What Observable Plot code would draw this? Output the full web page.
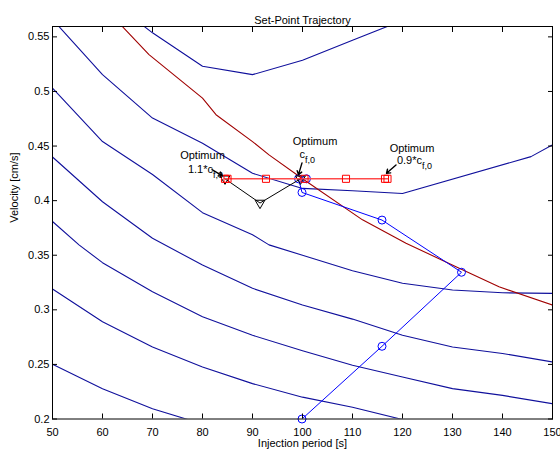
<!DOCTYPE html>
<html><head><meta charset="utf-8">
<script src="https://cdn.jsdelivr.net/npm/d3@7"></script>
<script src="https://cdn.jsdelivr.net/npm/@observablehq/plot@0.6"></script>
<style>body{margin:0;background:#fff}#chart{width:560px;height:452px}</style>
</head><body><div id="chart"></div>
<script>
const titleText = "Set-Point Trajectory";
const xLabel = "Injection period [s]";
const yLabel = "Velocity [cm/s]";
const xTicks = [50, 60, 70, 80, 90, 100, 110, 120, 130, 140, 150];
const yTicks = [0.2, 0.25, 0.3, 0.35, 0.4, 0.45, 0.5, 0.55];

// contour lines [injection period, velocity]
const contourA = [[60,0.589],[70,0.5537],[80,0.5231],[90,0.5154],[100,0.5286],[110,0.547],[120,0.565]];
const contourC = [[50,0.566],[60,0.5154],[70,0.4756],[80,0.4526],[90,0.425],[100,0.4112],[110,0.409],[120,0.4066],[145.7,0.4403],[150,0.4511]];
const contourD = [[50,0.5031],[60,0.4541],[70,0.424],[80,0.389],[90,0.3687],[93.3,0.3595],[100,0.350],[110,0.3358],[120,0.3243],[130,0.3181],[140,0.3156],[150,0.3151]];
const contourE = [[50,0.440],[60,0.399],[70,0.3656],[80,0.341],[90,0.3197],[100,0.3045],[110,0.2915],[120,0.2767],[130,0.266],[140,0.26],[150,0.2522]];
const contourF = [[50,0.3809],[55.3,0.3595],[60,0.3432],[70,0.3165],[80,0.2936],[90,0.2767],[100,0.2625],[110,0.2492],[120,0.2384],[130,0.2278],[140,0.2216],[150,0.214]];
const contourG = [[50,0.319],[60,0.289],[70,0.266],[80,0.2476],[90,0.2324],[100,0.22],[110,0.2108],[120,0.1995]];
const contourH = [[50,0.2501],[60,0.2278],[70,0.2094],[80,0.1954]];

// optimum curve (dark red)
const optimumCurve = [[62,0.569],[69.3,0.5338],[80,0.4939],[82.7,0.4787],[90,0.4541],[93.3,0.4419],[100,0.42],[112,0.3824],[120.7,0.361],[130.7,0.3395],[139.3,0.3211],[150,0.3043]];

// trajectories
const setPointX = [84.5, 85.0, 92.7, 100.4, 108.7, 116.5, 117.0];
const setPointV = [0.42, 0.42, 0.42, 0.42, 0.42, 0.42, 0.42];
const blueTraj = [[99.9,0.2],[115.9,0.2666],[131.8,0.3344],[115.9,0.3822],[99.9,0.4075],[99.2,0.42],[100.8,0.42]];
const blackTraj = [[99.6,0.42],[91.5,0.3978],[84.5,0.42]];

// annotations
const annoOptimum = [[80,0.4412],[102.5,0.4545],[121.9,0.4482]];
const annoMain = [[82.1,0.4290,"1.1*c"],[100.5,0.4422,"c"],[123.9,0.4372,"0.9*c"]];
const annoSub = [[82.1,0.4236,"f,0"],[100.5,0.4367,"f,0"],[123.9,0.4320,"f,0"]];
const annoArrows = [[81.9,0.4284,83.9,0.4229],[99.9,0.4346,99.2,0.4238],[118.7,0.4327,116.8,0.4250]];

const contours = [contourA, contourC, contourD, contourE, contourF, contourG, contourH];
const contourRows = contours.flatMap((c, i) => c.map(([x, v]) => ({x, v, id: i})));
const curveRows = optimumCurve.map(([x, v]) => ({x, v}));
const setRows = setPointX.map((x, i) => ({x, v: setPointV[i]}));
const blueRows = blueTraj.map(([x, v]) => ({x, v}));
const blackRows = blackTraj.map(([x, v]) => ({x, v}));

const fmt = d => String(+d.toFixed(2));
const font = "'Liberation Sans', Arial, Helvetica, sans-serif";

const chart = Plot.plot({
  width: 560, height: 452,
  marginLeft: 52, marginRight: 8, marginTop: 26, marginBottom: 33.5,
  style: {fontFamily: font, fontSize: "11px", background: "white", color: "black"},
  x: {domain: [50, 150]},
  y: {domain: [0.2, 0.5595]},
  marks: [
    Plot.line(contourRows, {x: "x", y: "v", z: "id", stroke: "#10109c", strokeWidth: 1.1, clip: true}),
    Plot.line(curveRows, {x: "x", y: "v", stroke: "#a00000", strokeWidth: 1.1, clip: true}),
    Plot.line(blueRows, {x: "x", y: "v", stroke: "#0000ff", strokeWidth: 1, clip: true}),
    Plot.dot(blueRows, {x: "x", y: "v", stroke: "#0000ff", r: 4, strokeWidth: 1, fill: "none"}),
    Plot.line(blackRows, {x: "x", y: "v", stroke: "black", strokeWidth: 1}),
    Plot.dot(blackRows, {x: "x", y: "v", symbol: "triangle", rotate: 180, r: 3.6, stroke: "black", strokeWidth: 1, fill: "none"}),
    Plot.line(setRows, {x: "x", y: "v", stroke: "#ff4a4a", strokeWidth: 1.6}),
    Plot.dot(setRows, {x: "x", y: "v", symbol: "square", r: 4, stroke: "#ff0000", strokeWidth: 1, fill: "none"}),
    Plot.text(annoOptimum, {x: d => d[0], y: d => d[1], text: () => "Optimum", fontSize: 11, fill: "black"}),
    Plot.text(annoMain, {x: d => d[0], y: d => d[1], text: d => d[2], textAnchor: "end", fontSize: 11, fill: "black"}),
    Plot.text(annoSub, {x: d => d[0], y: d => d[1], text: d => d[2], textAnchor: "start", fontSize: 9, fill: "black"}),
    Plot.arrow(annoArrows, {x1: d => d[0], y1: d => d[1], x2: d => d[2], y2: d => d[3], stroke: "black", strokeWidth: 1.4, headLength: 5, headAngle: 70}),
    Plot.frame({stroke: "black", strokeWidth: 1}),
    Plot.axisX({anchor: "bottom", ticks: xTicks, tickSize: -5, tickPadding: 14, label: null, fontSize: 11}),
    Plot.axisX({anchor: "top", ticks: xTicks, tickSize: -5, tickFormat: () => "", label: null}),
    Plot.axisY({anchor: "left", ticks: yTicks, tickSize: -5, tickPadding: 8, tickFormat: fmt, label: null, fontSize: 11}),
    Plot.axisY({anchor: "right", ticks: yTicks, tickSize: -5, tickFormat: () => "", label: null}),
    Plot.text([titleText], {frameAnchor: "top", dy: -10, text: d => d, fontSize: 11, fill: "black"}),
    Plot.text([xLabel], {frameAnchor: "bottom", dy: 28, text: d => d, fontSize: 11, fill: "black"}),
    Plot.text([yLabel], {frameAnchor: "left", dx: -38, rotate: -90, text: d => d, fontSize: 11, fill: "black"})
  ]
});
document.getElementById("chart").appendChild(chart);
</script>
</body></html>
